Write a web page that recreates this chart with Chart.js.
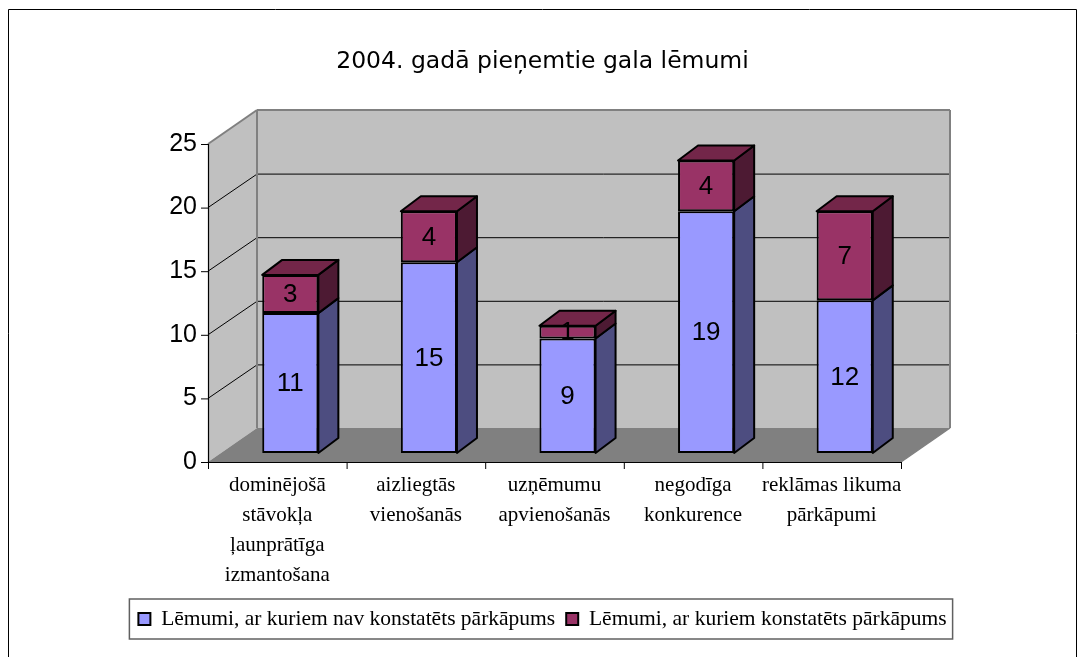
<!DOCTYPE html>
<html><head><meta charset="utf-8">
<script src="https://cdn.jsdelivr.net/npm/chart.js@4"></script>
<style>html,body{margin:0;padding:0;background:#fff}canvas{display:block}</style>
</head><body>
<canvas id="c" width="1085" height="657"></canvas>
<script>
const titleText = '2004. gadā pieņemtie gala lēmumi';
const categories = [
  ['dominējošā', 'stāvokļa', 'ļaunprātīga', 'izmantošana'],
  ['aizliegtās', 'vienošanās'],
  ['uzņēmumu', 'apvienošanās'],
  ['negodīga', 'konkurence'],
  ['reklāmas likuma', 'pārkāpumi']
];
const seriesNames = ['Lēmumi, ar kuriem nav konstatēts pārkāpums', 'Lēmumi, ar kuriem konstatēts pārkāpums'];
const notFoundValues = [11, 15, 9, 19, 12];
const foundValues = [3, 4, 1, 4, 7];
const yMin = 0, yMax = 25, yStep = 5;

// 3D geometry (offsets relative to the bar plane)
const FRONT = {dx: -13, dy: 9};
const BACK = {dx: 36, dy: -25};
const DEPTH = {dx: 20, dy: -15};
const faceColors = [
  {front: '#9999FF', side: '#4D4D80', top: '#7373BF'},
  {front: '#993366', side: '#4D1A33', top: '#732649'}
];

function poly(ctx, pts, fill, stroke, lw) {
  ctx.beginPath();
  ctx.moveTo(pts[0][0], pts[0][1]);
  for (let i = 1; i < pts.length; i++) ctx.lineTo(pts[i][0], pts[i][1]);
  ctx.closePath();
  if (fill) { ctx.fillStyle = fill; ctx.fill(); }
  if (stroke) { ctx.strokeStyle = stroke; ctx.lineWidth = lw || 1; ctx.stroke(); }
}
function line(ctx, x1, y1, x2, y2, color, lw) {
  ctx.beginPath(); ctx.moveTo(x1, y1); ctx.lineTo(x2, y2);
  ctx.strokeStyle = color; ctx.lineWidth = lw || 1; ctx.stroke();
}

const frame3d = {
  id: 'frame3d',
  beforeDraw(chart) {
    const ctx = chart.ctx;
    ctx.save();
    ctx.fillStyle = '#fff';
    ctx.fillRect(0, 0, chart.width, chart.height);
    ctx.beginPath();
    ctx.moveTo(8.5, chart.height); ctx.lineTo(8.5, 9.5); ctx.lineTo(1076.5, 9.5); ctx.lineTo(1076.5, chart.height);
    ctx.strokeStyle = '#000'; ctx.lineWidth = 1; ctx.stroke();
    ctx.restore();
  },
  beforeDatasetsDraw(chart) {
    const {ctx, chartArea: a, scales: {x, y}} = chart;
    const y0 = y.getPixelForValue(y.min), y1 = y.getPixelForValue(y.max);
    const fL = a.left + FRONT.dx, fR = a.right + FRONT.dx, fB = y0 + FRONT.dy, fT = y1 + FRONT.dy;
    const bL = a.left + BACK.dx, bR = a.right + BACK.dx, bB = y0 + BACK.dy, bT = y1 + BACK.dy;
    ctx.save();
    poly(ctx, [[bL, bT], [bR, bT], [bR, bB], [bL, bB]], '#C0C0C0');
    poly(ctx, [[fL, fB], [fL, fT], [bL, bT], [bL, bB]], '#C0C0C0');
    poly(ctx, [[fL, fB], [fR, fB], [bR, bB], [bL, bB]], '#808080');
    y.ticks.forEach(t => {
      const v = t.value;
      const p = y.getPixelForValue(v);
      if (v > y.min && v < y.max) {
        line(ctx, bL, p + BACK.dy + 0.5, bR, p + BACK.dy + 0.5, '#000', 1);
        line(ctx, fL, p + FRONT.dy, bL, p + BACK.dy + 0.5, '#000', 1);
      }
      line(ctx, fL - 7, p + FRONT.dy + 0.5, fL, p + FRONT.dy + 0.5, '#000', 1);
    });
    ctx.lineJoin = 'round';
    line(ctx, fL, fT, bL, bT, '#808080', 2);
    line(ctx, bL, bT, bR, bT, '#808080', 2);
    line(ctx, bR, bT, bR, bB, '#808080', 2);
    line(ctx, bL, bT, bL, bB, '#808080', 2);
    line(ctx, bR, bB, fR, fB, '#808080', 1.5);
    line(ctx, fL + 0.5, fT, fL + 0.5, fB + 0.5, '#000', 1.2);
    line(ctx, fL, fB + 0.5, fR, fB + 0.5, '#000', 1.2);
    for (let i = 0; i <= x.ticks.length; i++) {
      const px = x.getPixelForValue(i - 0.5) + FRONT.dx + 0.5;
      line(ctx, px, fB, px, fB + 7, '#000', 1);
    }
    ctx.restore();
  },
  afterDatasetsDraw(chart) {
    const ctx = chart.ctx;
    const n = chart.data.labels.length;
    ctx.save();
    ctx.lineJoin = 'round';
    // side faces of every segment, top face of the highest segment per column
    for (let i = 0; i < n; i++) {
      let topEl = null, topCol = null;
      chart.data.datasets.forEach((ds, di) => {
        const el = chart.getDatasetMeta(di).data[i];
        if (!el) return;
        const {x, y, base, width} = el.getProps(['x', 'y', 'base', 'width'], true);
        const r = x + width / 2;
        const t = Math.min(y, base), b = Math.max(y, base);
        if (b - t < 0.01) return;
        const col = faceColors[di];
        poly(ctx, [[r, b], [r, t], [r + DEPTH.dx, t + DEPTH.dy], [r + DEPTH.dx, b + DEPTH.dy]], col.side, '#000', 2);
        topEl = {x, t, width}; topCol = col;
      });
      if (topEl) {
        const l = topEl.x - topEl.width / 2, r = topEl.x + topEl.width / 2, t = topEl.t;
        poly(ctx, [[l, t], [l + DEPTH.dx, t + DEPTH.dy], [r + DEPTH.dx, t + DEPTH.dy], [r, t]], topCol.top, '#000', 2);
      }
    }
    // value labels
    ctx.font = '26px "Liberation Sans", Arial, sans-serif';
    ctx.fillStyle = '#000';
    ctx.textAlign = 'center';
    ctx.textBaseline = 'middle';
    chart.data.datasets.forEach((ds, di) => {
      const meta = chart.getDatasetMeta(di);
      meta.data.forEach((el, i) => {
        const {x, y, base} = el.getProps(['x', 'y', 'base'], true);
        ctx.fillText(String(ds.data[i]), x, (y + base) / 2 + 1);
      });
    });
    ctx.restore();
  },
  afterDraw(chart) {
    const lg = chart.legend;
    if (!lg || !lg.legendHitBoxes || !lg.legendHitBoxes.length) return;
    const hb = lg.legendHitBoxes;
    const first = hb[0], last = hb[hb.length - 1];
    const cy = first.top + first.height / 2;
    const ctx = chart.ctx;
    ctx.save();
    ctx.strokeStyle = '#606060';
    ctx.lineWidth = 1.5;
    ctx.strokeRect(first.left - 9, cy - 20, last.left + last.width + 6 - (first.left - 9), 40);
    ctx.restore();
  }
};

new Chart(document.getElementById('c'), {
  type: 'bar',
  data: {
    labels: categories,
    datasets: [
      {label: seriesNames[0], data: notFoundValues, backgroundColor: faceColors[0].front, borderColor: '#000', borderWidth: 2, borderSkipped: false},
      {label: seriesNames[1], data: foundValues, backgroundColor: faceColors[1].front, borderColor: '#000', borderWidth: 2, borderSkipped: false}
    ]
  },
  options: {
    responsive: false,
    animation: false,
    events: [],
    layout: {padding: {left: 0, right: 0, top: 0, bottom: 17.25}},
    datasets: {bar: {categoryPercentage: 1, barPercentage: 0.405}},
    scales: {
      x: {
        stacked: true,
        offset: true,
        grid: {display: false, drawTicks: false},
        border: {display: false},
        ticks: {
          color: '#000', autoSkip: false, maxRotation: 0, minRotation: 0,
          padding: 17, labelOffset: FRONT.dx,
          font: {family: '"Liberation Serif", "Times New Roman", serif', size: 21, lineHeight: 1.43}
        },
        afterFit(s) { s.height = 144.25; }
      },
      y: {
        stacked: true,
        min: yMin, max: yMax,
        grid: {display: false, drawTicks: false},
        border: {display: false},
        ticks: {
          stepSize: yStep, color: '#000', padding: 24, labelOffset: FRONT.dy,
          font: {family: '"Liberation Sans", Arial, sans-serif', size: 25}
        },
        afterFit(s) { s.width = 221; }
      },
      yRight: {
        type: 'linear', position: 'right', display: true,
        grid: {display: false, drawTicks: false},
        border: {display: false},
        ticks: {display: false},
        afterFit(s) { s.width = 171; }
      }
    },
    plugins: {
      tooltip: {enabled: false},
      title: {
        display: true, text: titleText, color: '#000',
        font: {family: '"DejaVu Sans", sans-serif', size: 23.5, weight: 'normal', lineHeight: 1.2},
        padding: {top: 48, bottom: 58.8}
      },
      legend: {
        display: true, position: 'bottom',
        labels: {
          color: '#000', boxWidth: 12, boxHeight: 12, padding: 11,
          font: {family: '"Liberation Serif", "Times New Roman", serif', size: 21.5}
        }
      }
    }
  },
  plugins: [frame3d]
});
</script>
</body></html>
